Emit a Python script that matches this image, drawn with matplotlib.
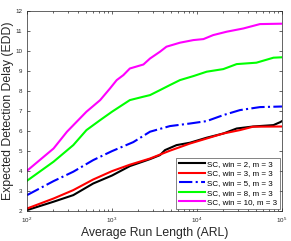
import matplotlib
matplotlib.use('agg')
import numpy as np
import matplotlib.pyplot as plt

# ARL / EDD curves
arl_w2 = [100, 205, 350, 600, 1000, 1620, 2800, 3670, 4200, 5750, 8280, 13000,
          20400, 29300, 45700, 79400, 95500, 100000]
edd_w2 = [2.05, 2.47, 2.8, 3.38, 3.78, 4.25, 4.6, 4.8, 5.05, 5.3, 5.42, 5.67,
          5.88, 6.13, 6.23, 6.3, 6.45, 6.5]

arl_w3 = [100, 205, 350, 600, 1000, 1620, 2800, 4790, 8280, 13000, 20400, 32000,
          45700, 100000]
edd_w3 = [2.13, 2.63, 3.05, 3.58, 4.0, 4.32, 4.63, 5.02, 5.38, 5.63, 5.88, 6.05,
          6.22, 6.23]

arl_w5 = [100, 205, 350, 600, 1000, 1780, 2800, 4790, 8280, 13000, 20400, 32000,
          55000, 100000]
edd_w5 = [2.8, 3.5, 3.97, 4.55, 5.0, 5.45, 5.97, 6.25, 6.38, 6.5, 6.8, 7.05,
          7.2, 7.23]

arl_w8 = [100, 205, 350, 500, 725, 1000, 1620, 2340, 2800, 3670, 4790, 6300,
          9060, 13000, 20400, 29300, 50000, 79400, 100000]
edd_w8 = [3.52, 4.47, 5.3, 6.05, 6.55, 6.97, 7.55, 7.72, 7.8, 8.05, 8.3, 8.55,
          8.75, 8.97, 9.1, 9.35, 9.42, 9.67, 9.69]

arl_w10 = [100, 205, 295, 500, 725, 945, 1135, 1360, 1620, 2340, 2800, 3670,
           4370, 6300, 9060, 11900, 15500, 22400, 35000, 55000, 100000]
edd_w10 = [4.02, 5.13, 5.97, 6.97, 7.55, 8.13, 8.55, 8.8, 9.13, 9.33, 9.63, 9.97,
           10.22, 10.42, 10.55, 10.6, 10.8, 10.97, 11.13, 11.35, 11.37]

plt.rcParams['font.family'] = ['Liberation Sans', 'DejaVu Sans']

fig = plt.figure(figsize=(2.91, 2.41), dpi=100)
ax = fig.add_axes([0.093, 0.124, 0.876, 0.830])

ax.semilogx(arl_w2, edd_w2, color='k', lw=1.5, label='SC, win = 2, m = 3')
ax.semilogx(arl_w3, edd_w3, color='#ff0000', lw=1.5, label='SC, win = 3, m = 3')
ax.semilogx(arl_w5, edd_w5, color='#0000ff', lw=1.5, ls='-.', label='SC, win = 5, m = 3')
ax.semilogx(arl_w8, edd_w8, color='#00ff00', lw=1.5, label='SC, win = 8, m = 3')
ax.semilogx(arl_w10, edd_w10, color='#ff00ff', lw=1.5, label='SC, win = 10, m = 3')

ax.set_xlim(1e2, 1e5)
ax.set_ylim(2, 12)
ax.set_yticks(range(2, 13))
ax.tick_params(which='both', direction='in', top=True, right=True,
               labelsize=4.5, colors='#262626', width=0.5)
ax.tick_params(which='major', length=2.5)
ax.tick_params(which='minor', length=1.5)
for s in ax.spines.values():
    s.set_color('#262626')
    s.set_linewidth(0.5)

ax.set_xlabel('Average Run Length (ARL)', fontsize=8.8, color='#262626', labelpad=1)
ax.set_ylabel('Expected Detection Delay (EDD)', fontsize=8.8, color='#262626', labelpad=1)

leg = ax.legend(loc='lower right', fontsize=5.8, handlelength=3.2,
                borderaxespad=0.3, fancybox=False, labelspacing=0.25,
                handletextpad=0.3, borderpad=0.3)
leg.get_frame().set_edgecolor('#262626')
leg.get_frame().set_linewidth(0.5)

fig.savefig('out.png', dpi=100)
